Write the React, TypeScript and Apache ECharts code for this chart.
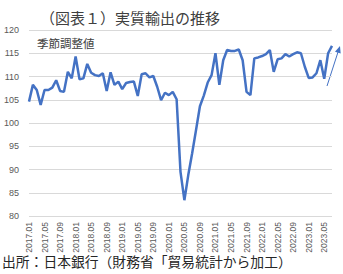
import React, { useEffect, useRef } from "react";
import * as echarts from "echarts";

const months: string[] = [];
for (let y = 2017; y <= 2023; y++) {
  for (let m = 1; m <= 12; m++) {
    if (y === 2023 && m > 7) break;
    months.push(`${y}.${m < 10 ? "0" + m : m}`);
  }
}

const realExports: number[] = [
  104.6, 108.2, 107.1, 103.9, 107.1, 107.1, 107.6, 109.2, 106.9, 106.7,
  111.0, 109.6, 114.3, 109.4, 109.6, 112.7, 110.8, 110.3, 110.1, 110.7,
  106.9, 110.9, 108.2, 108.9, 107.3, 108.6, 108.8, 108.9, 105.8, 110.5,
  110.7, 109.8, 110.1, 107.8, 104.9, 106.5, 106.0, 106.7, 105.1, 89.5,
  83.4, 88.8, 93.5, 98.5, 103.6, 105.9, 108.7, 110.3, 115.0, 108.2,
  113.5, 115.7, 115.5, 115.5, 115.8, 113.5, 106.7, 106.0, 113.9, 114.1,
  114.4, 114.8, 115.7, 111.0, 113.7, 113.9, 114.8, 114.3, 114.8, 115.2,
  115.0, 112.1, 109.7, 109.8, 110.7, 113.5, 109.5, 115.0, 116.6,
];

const yTicks = { min: 80, max: 120, interval: 5 };
const titleText = "（図表１）実質輸出の推移";
const subtitleText = "季節調整値";
const sourceText = "出所：日本銀行（財務省「貿易統計から加工）";

const JP = '"Noto Sans CJK JP", "Noto Sans", sans-serif';
const NUM = '"Liberation Sans", Arial, sans-serif';

export default function App() {
  const ref = useRef<HTMLDivElement>(null);
  useEffect(() => {
    if (!ref.current) return;
    const chart = echarts.init(ref.current, null, { renderer: "svg" });
    chart.setOption({
      animation: false,
      backgroundColor: "#ffffff",
      grid: { left: 29, right: 11, top: 30, bottom: 58, containLabel: false },
      xAxis: {
        type: "category",
        data: months,
        boundaryGap: false,
        axisLine: { show: false },
        axisTick: { show: false },
        axisLabel: {
          interval: 3,
          rotate: 90,
          fontSize: 8.5,
          color: "#595959",
          fontFamily: NUM,
          margin: 6,
        },
        splitLine: { show: false },
      },
      yAxis: {
        type: "value",
        min: yTicks.min,
        max: yTicks.max,
        interval: yTicks.interval,
        axisLine: { show: false },
        axisTick: { show: false },
        axisLabel: {
          fontSize: 9,
          color: "#595959",
          fontFamily: NUM,
          margin: 10,
        },
        splitLine: { lineStyle: { color: "#d9d9d9", width: 1 } },
      },
      series: [
        {
          type: "line",
          data: realExports,
          showSymbol: false,
          symbol: "none",
          lineStyle: { color: "#4472c4", width: 2.5 },
        },
      ],
      graphic: [
        {
          type: "text",
          left: 40,
          top: 10,
          style: { text: titleText, fontSize: 15, fill: "#404040", fontFamily: JP },
        },
        {
          type: "text",
          left: 37,
          top: 37,
          style: { text: subtitleText, fontSize: 11.5, fill: "#404040", fontFamily: JP },
        },
        {
          type: "text",
          left: 2,
          top: 254,
          style: { text: sourceText, fontSize: 13.8, fill: "#262626", fontFamily: JP },
        },
        {
          type: "line",
          shape: { x1: 327, y1: 86, x2: 338.5, y2: 50.5 },
          style: { stroke: "#4472c4", lineWidth: 1 },
        },
        {
          type: "polygon",
          shape: { points: [[340, 46], [340.7, 53.6], [335, 51.8]] },
          style: { fill: "#4472c4" },
        },
      ],
    });
    return () => chart.dispose();
  }, []);
  return (
    <div
      ref={ref}
      style={{ position: "absolute", left: 0, top: 0, width: 343, height: 274 }}
    />
  );
}
